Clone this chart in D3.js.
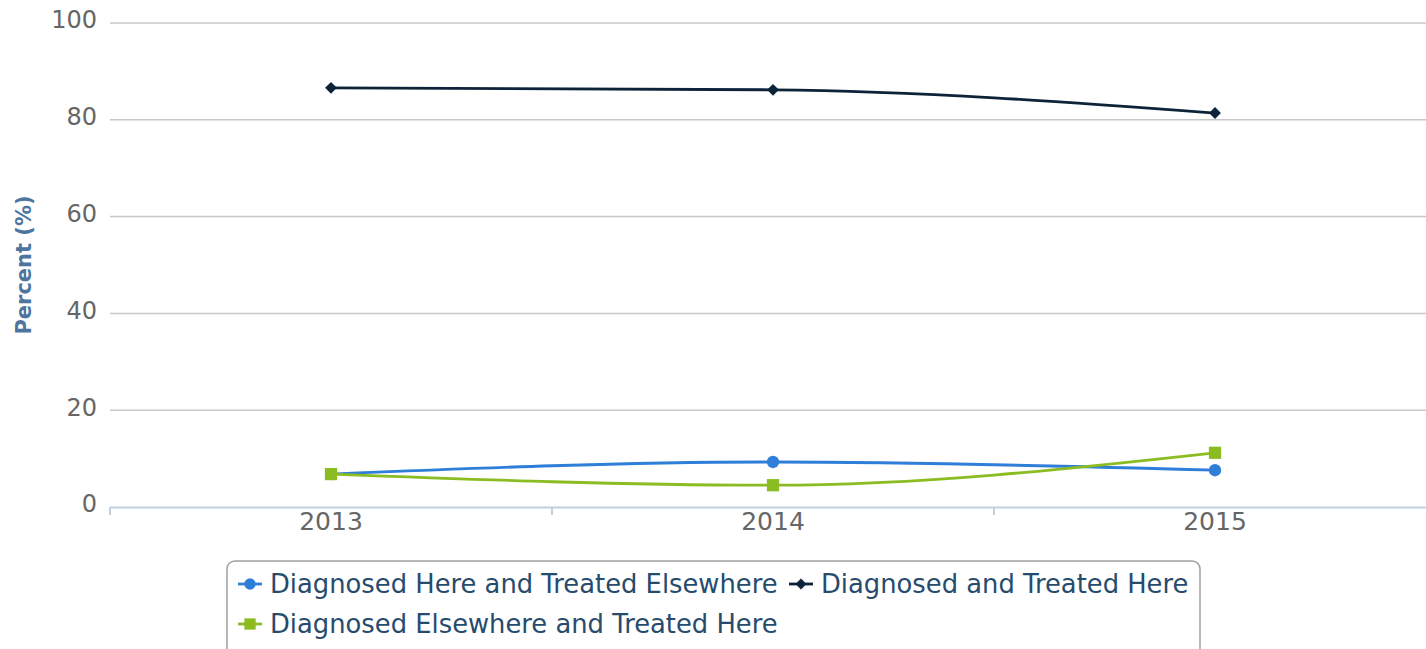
<!DOCTYPE html>
<html>
<head>
<meta charset="utf-8">
<script src="https://cdn.jsdelivr.net/npm/d3@7"></script>
<style>
  body { margin: 0; background: #fff; }
  svg { display: block; font-family: "DejaVu Sans", Verdana, sans-serif; }
</style>
</head>
<body>
<svg id="chart" width="1426" height="649"></svg>
<script>
// data
var years = ["2013", "2014", "2015"];
var hereElsewhere = [6.8, 9.3, 7.6];
var treatedHere = [86.6, 86.2, 81.4];
var elsewhereHere = [6.8, 4.5, 11.2];
var yTicks = [0, 20, 40, 60, 80, 100];

var series = [
    {name: "Diagnosed Here and Treated Elsewhere", values: hereElsewhere, color: "#2f7ed8", symbol: "circle"},
    {name: "Diagnosed and Treated Here", values: treatedHere, color: "#0d233a", symbol: "diamond"},
    {name: "Diagnosed Elsewhere and Treated Here", values: elsewhereHere, color: "#8bbc21", symbol: "square"}
];

// marker shape + rotation
function marker(sel, kind, big) {
    var k = big ? 1 : 0.85;
    if (kind == "circle") {
        sel.attr("d", d3.symbol().type(d3.symbolCircle).size(120 * k));
    } else if (kind == "square") {
        sel.attr("d", d3.symbol().type(d3.symbolSquare).size(150 * k));
    } else {
        // a rotated square looks like the highcharts diamond
        sel.attr("d", d3.symbol().type(d3.symbolSquare).size(70 * k));
    }
    return sel;
}

var svg = d3.select("svg#chart");
var margin = {top: 23, left: 110, right: -10, bottom: 142};
var width = 1426 - margin.left - margin.right;
var height = 649 - margin.top - margin.bottom;

var g = svg.append("g").attr("transform", "translate(" + margin.left + "," + margin.top + ")");

var x = d3.scaleBand().domain(years).range([0, width]);
var y = d3.scaleLinear().domain([0, 100]).range([height, 0]);

// gridlines
g.selectAll(".grid")
    .data(yTicks.filter(function(d) { return d > 0; }))
    .enter().append("line")
    .attr("class", "grid")
    .attr("x1", 0).attr("x2", width)
    .attr("y1", function(d) { return y(d); })
    .attr("y2", function(d) { return y(d); })
    .attr("stroke", "#c8c8c8")
    .attr("stroke-width", 1.5);

// y labels
var yAxis = g.append("g").call(d3.axisLeft(y).tickValues(yTicks).tickSize(0).tickPadding(13));
yAxis.select(".domain").remove();
yAxis.selectAll("text")
    .attr("fill", "#666")
    .style("font-size", "24px")
    .style("font-family", "DejaVu Sans, Verdana, sans-serif")
    .attr("dy", "0.2em");

// x axis
var xAxis = g.append("g").attr("transform", "translate(0," + height + ")")
    .call(d3.axisBottom(x).tickSize(0).tickPadding(12));
xAxis.select(".domain").attr("stroke", "#c0d0e0").attr("stroke-width", 2);
xAxis.selectAll("text")
    .attr("fill", "#666")
    .style("font-size", "25px")
    .style("font-family", "DejaVu Sans, Verdana, sans-serif")
    .attr("dy", "0.45em");

// tick marks between categories
var bounds = [0].concat(years.map(function(d) { return x(d) + x.bandwidth(); }));
xAxis.selectAll(".tmark")
    .data(bounds)
    .enter().append("line")
    .attr("class", "tmark")
    .attr("x1", function(d) { return d; })
    .attr("x2", function(d) { return d; })
    .attr("y1", 0).attr("y2", 8)
    .attr("stroke", "#c0d0e0")
    .attr("stroke-width", 2);

// axis title
svg.append("text")
    .attr("transform", "translate(31," + (margin.top + height / 2) + ") rotate(-90)")
    .attr("text-anchor", "middle")
    .attr("fill", "#4d759e")
    .style("font-weight", "bold")
    .style("font-size", "21px")
    .text("Percent (%)");

var line = d3.line()
    .x(function(d, i) { return x(years[i]) + x.bandwidth() / 2; })
    .y(function(d) { return y(d); })
    .curve(d3.curveMonotoneX);

series.forEach(function(s) {
    g.append("path")
        .datum(s.values)
        .attr("d", line)
        .attr("fill", "none")
        .attr("stroke", s.color)
        .attr("stroke-width", 2.8);
});

series.forEach(function(s) {
    var pts = g.selectAll(null)
        .data(s.values)
        .enter().append("path")
        .attr("transform", function(d, i) {
            return "translate(" + (x(years[i]) + x.bandwidth() / 2) + "," + y(d) + ")" +
                (s.symbol == "diamond" ? " rotate(45)" : "");
        })
        .attr("fill", s.color);
    marker(pts, s.symbol, true);
});

// legend
var legend = svg.append("g");
legend.append("rect")
    .attr("x", 227).attr("y", 561)
    .attr("width", 973).attr("height", 110)
    .attr("rx", 8).attr("ry", 8)
    .attr("fill", "none")
    .attr("stroke", "#a0a0a0")
    .attr("stroke-width", 1.5);

var items = [
    {s: series[0], x: 238, y: 584},
    {s: series[1], x: 789, y: 584},
    {s: series[2], x: 238, y: 624}
];
items.forEach(function(it) {
    legend.append("line")
        .attr("x1", it.x).attr("x2", it.x + 24)
        .attr("y1", it.y).attr("y2", it.y)
        .attr("stroke", it.s.color).attr("stroke-width", 2.8);
    var m = legend.append("path")
        .attr("transform", "translate(" + (it.x + 12) + "," + it.y + ")" +
            (it.s.symbol == "diamond" ? " rotate(45)" : ""))
        .attr("fill", it.s.color);
    marker(m, it.s.symbol, false);
    legend.append("text")
        .attr("x", it.x + 32).attr("y", it.y)
        .attr("dy", "0.36em")
        .attr("fill", "#274b6d")
        .style("font-size", "25.8px")
        .text(it.s.name);
});
</script>
</body>
</html>
